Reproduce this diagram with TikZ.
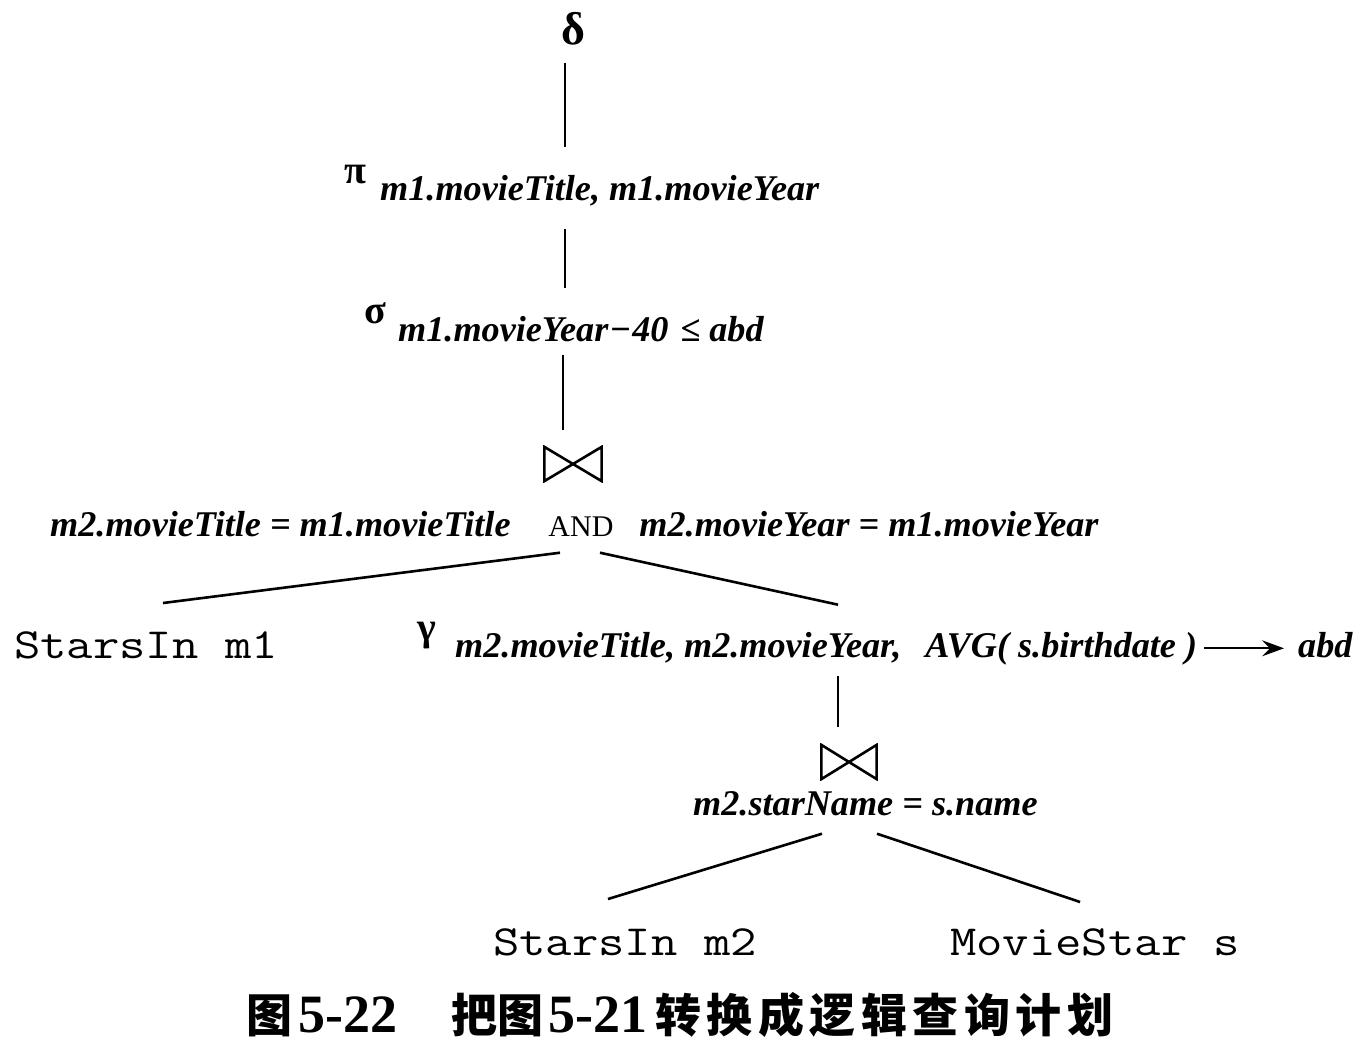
\documentclass[tikz,border=0pt]{standalone}
\usepackage{fontspec}
\setmainfont{Liberation Serif}
\newfontfamily\cjk{Noto Sans CJK SC}
\usetikzlibrary{calc,arrows.meta}
\tikzset{
  lbl/.style={inner sep=0pt, font=\fontsize{36.2pt}{40pt}\selectfont\bfseries\itshape},
  greek/.style={inner sep=0pt, font=\fontsize{40pt}{42pt}\selectfont\bfseries},
  rel/.style={inner sep=0pt, font=\fontsize{43pt}{45pt}\selectfont\ttfamily},
  edge/.style={line width=2.6pt},
  maparrow/.style={line width=1.8pt, -{Stealth[length=22pt,width=16pt,inset=8pt]}},
  joinop/.style={minimum width=60pt, minimum height=37pt, inner sep=0pt,
    path picture={\draw[line width=2.6pt]
      ($(path picture bounding box.north west)+(1.4,1.4)$) --
      ($(path picture bounding box.south west)+(1.4,-1.4)$) --
      ($(path picture bounding box.north east)+(-1.4,1.4)$) --
      ($(path picture bounding box.south east)+(-1.4,-1.4)$) -- cycle;}},
}
\newcommand{\relname}[1]{\scalebox{1.19}[1]{#1}}
\newcommand{\cjkgap}{\hspace{5.5pt}}
\begin{document}
\begin{tikzpicture}[x=1pt,y=-1pt]
\useasboundingbox[fill=white] (0,0) rectangle (1366,1050);
\coordinate (spine) at (565,0);
\coordinate (col2) at (838,0);

\node[greek, font=\fontsize{46pt}{48pt}\selectfont\bfseries] (delta) at (573,29) {δ};
\node[greek] (pi) at (355,175) {π};
\node[lbl, anchor=base west] (pisub) at (380,200) {m1.movieTitle, m1.movieYear};
\node[greek] (sigma) at (375,313) {σ};
\node[lbl, anchor=base west] (sigmasub) at (398,341) {m1.movieYear\hspace{1pt}−\hspace{1pt}40\hspace{12pt}≤\hspace{9pt}abd};
\node[joinop] (join1) at (573,464) {};
\node[lbl, anchor=base west] (cond1) at (50,536) {m2.movieTitle = m1.movieTitle\hspace{38pt}{\upshape\mdseries\fontsize{30pt}{32pt}\selectfont AND}\hspace{26pt}m2.movieYear = m1.movieYear};
\node[rel, anchor=base west] (starsin1) at (14,658) {\relname{StarsIn m1}};
\node[greek] (gamma) at (427,636) {γ};
\node[lbl, anchor=base west] (gammasub) at (455,657) {m2.movieTitle, m2.movieYear,\hspace{24pt}AVG( s.birthdate )};
\node[lbl, anchor=base west] (abd) at (1298,657) {abd};
\node[joinop, minimum width=58pt] (join2) at (849,762) {};
\node[lbl, anchor=base west] (cond2) at (693,815) {m2.starName = s.name};
\node[rel, anchor=base west] (starsin2) at (493,955) {\relname{StarsIn m2}};
\node[rel, anchor=base west] (moviestar) at (950,955) {\relname{MovieStar s}};
\node[anchor=base west, inner sep=0pt, font=\fontsize{54pt}{56pt}\selectfont\bfseries] (caption) at (246,1032)
  {{\cjk\fontsize{46pt}{48pt}\selectfont 图}\hspace{6pt}5-22\hspace{54pt}{\cjk\fontsize{46pt}{48pt}\selectfont 把图}\hspace{5pt}5-21\hspace{8pt}{\cjk\fontsize{46pt}{48pt}\selectfont 转\cjkgap 换\cjkgap 成\cjkgap 逻\cjkgap 辑\cjkgap 查\cjkgap 询\cjkgap 计\cjkgap 划}};

\draw[maparrow] ($(gammasub.east)+(7,0)$) -- ($(abd.west |- gammasub.east)+(-14,0)$);
\draw[edge] ($(spine |- delta.south)+(0,17)$) -- ($(spine |- pisub.north)+(0,-28)$);
\draw[edge] ($(spine |- pisub.south)+(0,23)$) -- ($(spine |- sigmasub.north)+(0,-28)$);
\draw[edge] ($(spine |- sigmasub.south)+(-2,13)$) -- ($(spine |- join1.north)+(-2,-15)$);
\draw[edge] ($(join1 |- cond1.south)+(-13,16)$) -- ($(starsin1.north)+(17,-28)$);
\draw[edge] ($(join1 |- cond1.south)+(27,16)$) -- ($(col2 |- gammasub.north)+(0,-27)$);
\draw[edge] ($(col2 |- gammasub.south)+(0,11)$) -- ($(col2 |- join2.north)+(0,-16)$);
\draw[edge] ($(join2 |- cond2.south)+(-27,18)$) -- ($(starsin2.north)+(-17,-29)$);
\draw[edge] ($(join2 |- cond2.south)+(28,18)$) -- ($(moviestar.north)+(-15,-26)$);
\end{tikzpicture}
\end{document}
